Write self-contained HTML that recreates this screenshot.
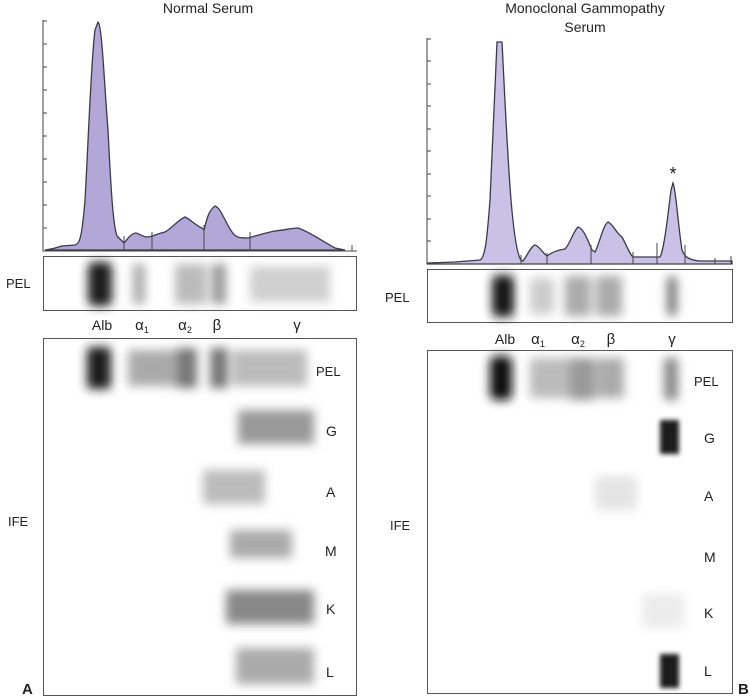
<!DOCTYPE html>
<html><head><meta charset="utf-8"><style>
html,body{margin:0;padding:0;background:#fff}
svg{display:block}
text{font-family:"Liberation Sans",sans-serif;fill:#222}
</style></head><body>
<svg width="750" height="696" viewBox="0 0 750 696" xmlns="http://www.w3.org/2000/svg">
<defs>
<filter id="b" x="-50%" y="-50%" width="200%" height="200%"><feGaussianBlur stdDeviation="5"/></filter>
<filter id="b2" x="-50%" y="-50%" width="200%" height="200%"><feGaussianBlur stdDeviation="2.5"/></filter>
</defs>
<!-- LEFT -->
<text x="208" y="13" font-size="14" text-anchor="middle">Normal Serum</text>
<path d="M45,250 C55,249 58,247 62,246 L75,245 C80,244 82,236 85,200 C88,150 91,60 95,30 L98,22 C102,25 104,80 108,130 C111,190 113,225 117,236 L124,243 C128,238 132,233 136,233 C140,234 143,237 147,237 C152,237 156,234 165,232 C172,228 178,220 185,217 C190,219 195,225 202,228 L204,230 C207,218 209,210 215,206 C221,208 225,222 232,232 C236,238 240,238 248,238 C255,236 265,233 275,231 C285,230 292,228 298,228 C310,232 320,240 335,248 L345,250 Z" fill="#b3a7d8" stroke="#3a3a4a" stroke-width="1.3"/>
<path d="M43,20 V251 H357" fill="none" stroke="#444" stroke-width="1"/>
<g stroke="#444" stroke-width="1">
<line x1="43" y1="21" x2="47" y2="21"/><line x1="43" y1="44" x2="47" y2="44"/><line x1="43" y1="67" x2="47" y2="67"/><line x1="43" y1="90" x2="47" y2="90"/><line x1="43" y1="113" x2="47" y2="113"/><line x1="43" y1="136" x2="47" y2="136"/><line x1="43" y1="159" x2="47" y2="159"/><line x1="43" y1="182" x2="47" y2="182"/><line x1="43" y1="205" x2="47" y2="205"/><line x1="43" y1="228" x2="47" y2="228"/>
<line x1="124" y1="236" x2="124" y2="251"/><line x1="152" y1="232" x2="152" y2="251"/><line x1="204" y1="225" x2="204" y2="251"/><line x1="250" y1="232" x2="250" y2="251"/><line x1="352" y1="245" x2="352" y2="251"/>
</g>
<rect x="43.5" y="256.5" width="313" height="54" fill="#fff" stroke="#555"/>
<g filter="url(#b)">
<rect x="88" y="262" width="24" height="44" rx="6" fill="#1a1a1a"/>
<rect x="133" y="264" width="12" height="40" fill="#aaa"/>
<rect x="175" y="264" width="32" height="40" fill="#bbb"/>
<rect x="212" y="264" width="14" height="40" fill="#999"/>
<rect x="250" y="266" width="80" height="36" fill="#d0d0d0"/>
</g>
<text x="6" y="288" font-size="13">PEL</text>
<text x="102" y="330" font-size="14" text-anchor="middle">Alb</text>
<text x="142" y="330" font-size="15" text-anchor="middle">α<tspan font-size="9" dy="3">1</tspan></text>
<text x="185" y="330" font-size="15" text-anchor="middle">α<tspan font-size="9" dy="3">2</tspan></text>
<text x="217" y="330" font-size="15" text-anchor="middle">β</text>
<text x="297" y="330" font-size="15" text-anchor="middle">γ</text>
<rect x="43.5" y="338.5" width="313" height="357" fill="#fff" stroke="#555"/>
<g filter="url(#b)">
<rect x="87" y="347" width="24" height="42" rx="4" fill="#1e1e1e"/>
<rect x="128" y="350" width="50" height="36" fill="#aaa"/>
<rect x="177" y="348" width="20" height="40" fill="#777"/>
<rect x="210" y="348" width="18" height="40" fill="#777"/>
<rect x="232" y="350" width="75" height="36" fill="#bbb"/>
<rect x="238" y="410" width="76" height="34" fill="#999"/>
<rect x="203" y="470" width="62" height="34" fill="#bbb"/>
<rect x="230" y="530" width="62" height="28" fill="#aaa"/>
<rect x="226" y="590" width="88" height="34" fill="#888"/>
<rect x="236" y="648" width="78" height="36" fill="#aaa"/>
</g>
<text x="316" y="376" font-size="13">PEL</text>
<text x="326" y="436" font-size="14">G</text>
<text x="326" y="497" font-size="14">A</text>
<text x="325" y="556" font-size="14">M</text>
<text x="326" y="614" font-size="14">K</text>
<text x="326" y="677" font-size="14">L</text>
<text x="8" y="526" font-size="13">IFE</text>
<text x="22" y="694" font-size="15" font-weight="bold">A</text>
<!-- RIGHT -->
<text x="585" y="13" font-size="14" text-anchor="middle">Monoclonal Gammopathy</text>
<text x="585" y="32" font-size="14" text-anchor="middle">Serum</text>
<path d="M428,263 L455,262 L480,260 C485,258 487,240 490,200 C493,140 495,80 497,42 L502,42 C504,80 507,150 511,200 C514,235 517,255 521,260 L523,261 C527,256 531,246 535,245 C539,246 542,252 547,256 C551,253 556,250 565,249 C570,244 573,232 578,227 C583,228 587,238 592,250 L595,252 C599,245 603,225 608,222 C613,224 616,233 622,237 C627,246 630,255 633,257 L660,257 C664,250 668,215 671,190 L673,183 C676,190 678,225 682,250 C685,258 690,260 700,261 L732,261 L732,264 L428,264 Z" fill="#c9c1e6" stroke="#3a3a4a" stroke-width="1.3"/>
<path d="M427,38 V264 H732" fill="none" stroke="#444" stroke-width="1"/>
<g stroke="#444" stroke-width="1">
<line x1="427" y1="39" x2="431" y2="39"/><line x1="427" y1="61" x2="431" y2="61"/><line x1="427" y1="84" x2="431" y2="84"/><line x1="427" y1="106" x2="431" y2="106"/><line x1="427" y1="129" x2="431" y2="129"/><line x1="427" y1="151" x2="431" y2="151"/><line x1="427" y1="174" x2="431" y2="174"/><line x1="427" y1="196" x2="431" y2="196"/><line x1="427" y1="219" x2="431" y2="219"/><line x1="427" y1="241" x2="431" y2="241"/>
<line x1="521" y1="255" x2="521" y2="264"/><line x1="547" y1="253" x2="547" y2="264"/><line x1="591" y1="245" x2="591" y2="264"/><line x1="633" y1="252" x2="633" y2="264"/><line x1="657" y1="243" x2="657" y2="264"/><line x1="685" y1="245" x2="685" y2="264"/><line x1="715" y1="258" x2="715" y2="264"/><line x1="731" y1="256" x2="731" y2="264"/>
</g>
<text x="673" y="180" font-size="18" text-anchor="middle">*</text>
<rect x="427.5" y="269.5" width="305" height="53" fill="#fff" stroke="#555"/>
<g filter="url(#b)">
<rect x="492" y="275" width="22" height="42" rx="6" fill="#151515"/>
<rect x="530" y="278" width="24" height="36" fill="#ccc"/>
<rect x="565" y="276" width="26" height="40" fill="#aaa"/>
<rect x="596" y="276" width="26" height="40" fill="#aaa"/>
<rect x="667" y="277" width="10" height="38" fill="#777"/>
</g>
<text x="385" y="302" font-size="13">PEL</text>
<text x="505" y="344" font-size="14" text-anchor="middle">Alb</text>
<text x="538" y="344" font-size="15" text-anchor="middle">α<tspan font-size="9" dy="3">1</tspan></text>
<text x="578" y="344" font-size="15" text-anchor="middle">α<tspan font-size="9" dy="3">2</tspan></text>
<text x="611" y="344" font-size="15" text-anchor="middle">β</text>
<text x="672" y="344" font-size="15" text-anchor="middle">γ</text>
<rect x="427.5" y="350.5" width="305" height="343" fill="#fff" stroke="#555"/>
<g filter="url(#b)">
<rect x="490" y="356" width="22" height="44" rx="6" fill="#111"/>
<rect x="530" y="358" width="92" height="40" fill="#bbb"/>
<rect x="570" y="358" width="24" height="42" fill="#999"/>
<rect x="600" y="358" width="24" height="40" fill="#aaa"/>
<rect x="664" y="358" width="14" height="42" fill="#888"/>
<rect x="595" y="476" width="42" height="34" fill="#e4e4e4"/>
<rect x="642" y="594" width="42" height="34" fill="#ececec"/>
</g>
<g filter="url(#b2)">
<rect x="660" y="420" width="19" height="34" fill="#1a1a1a"/>
<rect x="660" y="654" width="19" height="34" fill="#1a1a1a"/>
</g>
<text x="694" y="386" font-size="13">PEL</text>
<text x="704" y="443" font-size="14">G</text>
<text x="704" y="501" font-size="14">A</text>
<text x="704" y="562" font-size="14">M</text>
<text x="704" y="618" font-size="14">K</text>
<text x="704" y="676" font-size="14">L</text>
<text x="390" y="530" font-size="13">IFE</text>
<text x="738" y="694" font-size="15" font-weight="bold">B</text>
</svg>
</body></html>
